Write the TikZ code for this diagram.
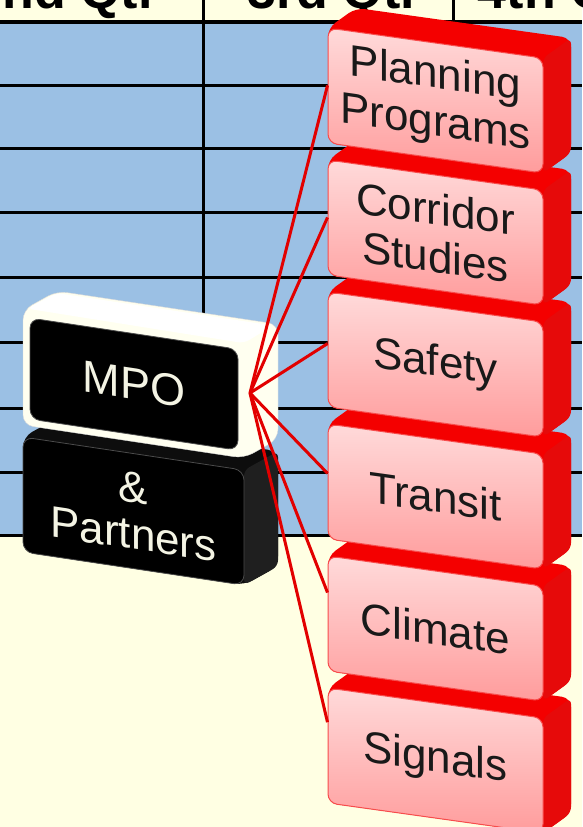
\documentclass[tikz,border=0pt]{standalone}
\usepackage{fontspec}
\setmainfont{Liberation Sans}
\usetikzlibrary{calc}

\definecolor{paper}{HTML}{FFFFE3}
\definecolor{sheetblue}{HTML}{9BC0E4}
\definecolor{boxred}{HTML}{F40000}
\definecolor{sidered}{HTML}{E60A0A}
\definecolor{pinktop}{HTML}{FFDADA}
\definecolor{pinkbot}{HTML}{FF9C9C}
\definecolor{cream}{HTML}{FFFFF0}
\definecolor{creamtext}{HTML}{F4F4E4}
\definecolor{linkred}{HTML}{E20000}

\tikzset{
  gridline/.style={line width=3pt, black},
  qtr/.style={anchor=base, font=\fontsize{52}{52}\selectfont\bfseries},
  redface/.style={draw=boxred!70, line width=1pt, rounded corners=9pt,
    top color=pinktop, bottom color=pinkbot, minimum width=215pt,
    minimum height=115pt, inner sep=0pt, align=center, transform shape,
    text=black!90, font=\fontsize{44}{48}\selectfont},
  darkface/.style={fill=black, draw=black!70, line width=0.8pt,
    rounded corners=10pt, inner sep=0pt, align=center, transform shape,
    text=creamtext, font=\fontsize{44}{46}\selectfont},
  link/.style={linkred, line width=3pt}
}

\begin{document}
\begin{tikzpicture}[x=1pt, y=-1pt]
\useasboundingbox (0,0) rectangle (582,827);
\fill[paper] (0,0) rectangle (582,827);
\fill[sheetblue] (0,22) rectangle (582,535);
\foreach \y in {85,148,212,277,342,408,472,535}
  \draw[gridline] (0,\y) -- (582,\y);
\draw[gridline, line width=4pt] (0,22) -- (582,22);
\foreach \x in {203,453}
  \draw[gridline] (\x,0) -- (\x,535);
\node[qtr] (q2) at (66,9) {2nd Qtr};
\node[qtr] (q3) at (334,9) {3rd Qtr};
\node[qtr] (q4) at (563,9) {4th Qtr};

\begin{scope}[shift={(23,437)}, yslant=-0.15]
  \fill[black!95, rounded corners=10pt] (0,0) -- (34,-24) -- (255,-24)
    -- (255,91) -- (221,115) -- (0,115) -- cycle;
  \fill[black!88, rounded corners=6pt] (221,0) -- (255,-24) -- (255,91)
    -- (221,115) -- cycle;
  \node[darkface, minimum width=221pt, minimum height=115pt] (partners)
    at (110.5,57.5) {\&\\Partners};
\end{scope}

\begin{scope}[shift={(23,310)}, yslant=-0.15]
  \fill[cream, draw=black!15, rounded corners=10pt] (0,0) -- (34,-24)
    -- (255,-24) -- (255,91) -- (221,115) -- (0,115) -- cycle;
  \fill[white, rounded corners=6pt] (4,-2) -- (34,-22) -- (250,-22)
    -- (221,0) -- cycle;
  \node[darkface, minimum width=208pt, minimum height=101pt,
    font=\fontsize{45}{46}\selectfont] (mpo) at (111,57.5) {MPO};
\end{scope}

\foreach \name/\row/\txt in {sig/5/Signals, clim/4/Climate, trans/3/Transit,
  safe/2/Safety, corr/1/{Corridor\\Studies}, plan/0/{Planning\\Programs}} {
  \begin{scope}[shift={(328,28+132*\row)}, yslant=-0.14]
    \fill[boxred, rounded corners=9pt] (0,0) -- (28,-24) -- (243,-24)
      -- (243,91) -- (215,115) -- (0,115) -- cycle;
    \fill[sidered, rounded corners=6pt] (215,0) -- (243,-24) -- (243,91)
      -- (215,115) -- cycle;
    \node[redface] (\name) at (107.5,57.5) {\txt};
  \end{scope}
}

\coordinate (hub) at (250,393);
\foreach \name/\pos in {plan/0.5, corr/0.5, safe/0.45, trans/0.43,
  clim/0.32, sig/0.3}
  \draw[link] (hub) -- ($(\name.north west)!\pos!(\name.south west)$);
\end{tikzpicture}
\end{document}
